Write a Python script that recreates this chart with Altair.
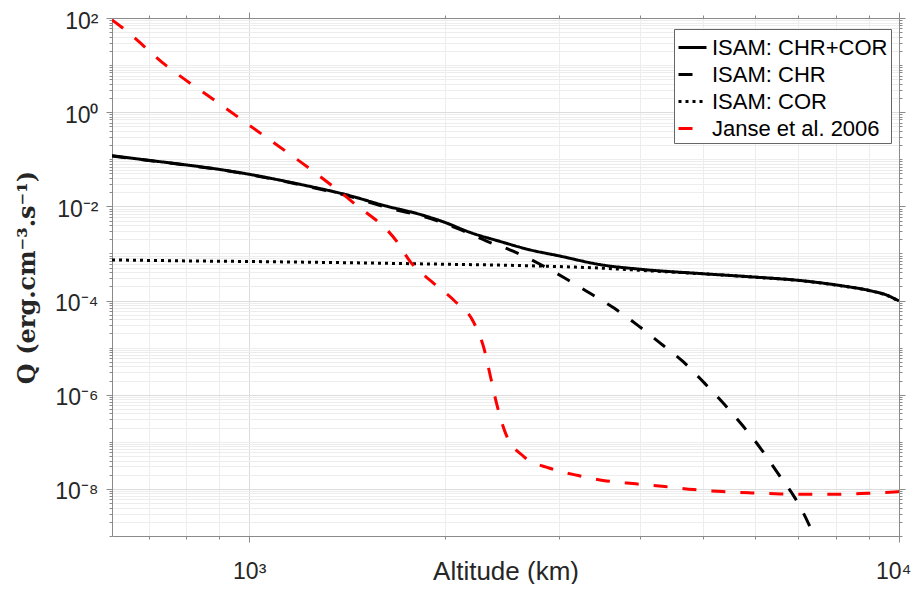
import math
import altair as alt
import pandas as pd

# ---------------- data ----------------
SERIES = ["ISAM: CHR+COR", "ISAM: CHR", "ISAM: COR", "Janse et al. 2006"]
COLORS = ["#000000", "#000000", "#000000", "#ff0000"]
DASHES = [[1, 0], [14, 15], [3, 4], [14, 15]]

ALT_TOTAL = [615, 701, 801, 898, 1000, 1197, 1403, 1628, 1831, 2000, 2187, 2432,
             2700, 3007, 3465, 4036, 4937, 6039, 7032, 8103, 9102, 9600, 9800, 10000]
Q_TOTAL = [0.119, 0.095, 0.0757, 0.0612, 0.048, 0.0294, 0.018, 0.0101, 0.00676,
           0.00457, 0.0028, 0.0018, 0.0012, 8.8e-4, 5.8e-4, 4.57e-4, 3.75e-4,
           3.13e-4, 2.67e-4, 2.09e-4, 1.58e-4, 1.29e-4, 1.13e-4, 9.8e-5]

ALT_CHR = [615, 701, 801, 898, 1000, 1197, 1403, 1628, 1917, 2109, 2319, 2548,
           2808, 3068, 3351, 3653, 3968, 4296, 4659, 5024, 5393, 5754, 6142,
           6508, 6912, 7254, 7330]
Q_CHR = [0.118, 0.094, 0.075, 0.0605, 0.0473, 0.0288, 0.0174, 0.0095, 5.29e-3,
         3.24e-3, 1.83e-3, 1.12e-3, 5.83e-4, 2.94e-4, 1.41e-4, 6.76e-5, 2.94e-5,
         1.23e-5, 4.97e-6, 1.74e-6, 6.12e-7, 2.16e-7, 6.86e-8, 2.16e-8, 6.53e-9,
         1.86e-9, 1.35e-9]

ALT_COR = [615, 800, 1000, 1200, 1600, 2000, 2432, 2800, 3465, 4036, 4937, 6039,
           7032, 8103, 9102, 9600, 9800, 10000]
Q_COR = [7.3e-4, 6.95e-4, 6.75e-4, 6.55e-4, 6.2e-4, 5.9e-4, 5.65e-4, 5.4e-4,
         4.9e-4, 4.35e-4, 3.73e-4, 3.12e-4, 2.66e-4, 2.08e-4, 1.57e-4, 1.28e-4,
         1.12e-4, 9.7e-5]

ALT_JANSE = [615, 636, 747, 880, 1046, 1231, 1444, 1687, 1772, 1919, 2073, 2211,
             2299, 2352, 2407, 2480, 2646, 2901, 3208, 3547, 3935, 4361, 4833,
             5350, 5928, 6577, 7296, 8087, 8972, 9824, 10000]
Q_JANSE = [91, 64.4, 9.5, 1.89, 0.34, 0.0676, 0.0122, 1.8e-3, 6.53e-4, 2.38e-4,
           9.66e-5, 3.63e-5, 9.38e-6, 2.38e-6, 5.92e-7, 1.53e-7, 4.86e-8, 2.75e-8,
           1.92e-8, 1.48e-8, 1.28e-8, 1.12e-8, 9.66e-9, 8.77e-9, 8.23e-9, 7.83e-9,
           7.71e-9, 7.71e-9, 8.1e-9, 8.6e-9, 8.8e-9]

X_DOMAIN = [615, 10000]
Y_DOMAIN = [1e-9, 1e2]

X_MAJOR = [1000, 10000]
X_MAJOR_LABELS = ["10³", "10⁴"]
Y_MAJOR = [1e2, 1e0, 1e-2, 1e-4, 1e-6, 1e-8]
Y_MAJOR_LABELS = ["10²", "10⁰", "10⁻²", "10⁻⁴", "10⁻⁶", "10⁻⁸"]

X_TITLE = "Altitude (km)"
Y_TITLE = "Q (erg.cm⁻³.s⁻¹)"

# ---------------- build table ----------------
rows = []
for name, xs, ys in [(SERIES[0], ALT_TOTAL, Q_TOTAL), (SERIES[1], ALT_CHR, Q_CHR),
                     (SERIES[2], ALT_COR, Q_COR), (SERIES[3], ALT_JANSE, Q_JANSE)]:
    for a, q in zip(xs, ys):
        rows.append({"series": name, "alt": a, "q": q})
df = pd.DataFrame(rows)


def minor_ticks(lo, hi, majors):
    out = []
    e0 = math.floor(math.log10(lo))
    e1 = math.ceil(math.log10(hi))
    for e in range(e0, e1 + 1):
        for m in range(1, 10):
            v = float(f"{m}e{e}")
            if lo <= v <= hi and all(abs(v - M) > 1e-12 * M for M in majors):
                out.append(v)
    return out


X_MINOR = minor_ticks(X_DOMAIN[0], X_DOMAIN[1], X_MAJOR)
Y_MINOR = minor_ticks(Y_DOMAIN[0], Y_DOMAIN[1], Y_MAJOR)


def label_expr(values, labels):
    parts = []
    for v, lab in zip(values, labels):
        parts.append(f"round(log(datum.value)/LN10) == {round(math.log10(v))} ? '{lab}'")
    return " : ".join(parts) + " : ''"


AX_COL = "#8a8a8a"
TXT_COL = "#262626"
SANS = "Liberation Sans"

xs = alt.Scale(type="log", domain=X_DOMAIN, nice=False)
ys = alt.Scale(type="log", domain=Y_DOMAIN, nice=False)

base = alt.Chart(df)


def legend():
    return alt.Legend(title=None, orient="none", legendX=562, legendY=11,
                      symbolType="stroke", symbolStrokeWidth=3, symbolSize=784,
                      labelFont=SANS, labelFontSize=22, labelColor="#000000",
                      labelOffset=4, labelLimit=400,
                      strokeColor="#666666", fillColor="#ffffff",
                      padding=3, rowPadding=0)


lines = base.mark_line(strokeWidth=3, clip=True, interpolate="monotone").encode(
    x=alt.X("alt:Q", scale=xs, axis=alt.Axis(
        orient="bottom", values=X_MAJOR, labelExpr=label_expr(X_MAJOR, X_MAJOR_LABELS),
        tickSize=6, tickColor=AX_COL, domainColor=AX_COL, grid=True, gridColor="#dcdcdc",
        labelFont=SANS, labelFontSize=23, labelColor=TXT_COL, labelPadding=18,
        labelOverlap=False, labelFlush=5, labelFlushOffset=12,
        title=X_TITLE, titleFont=SANS, titleFontSize=26, titleFontWeight="normal",
        titleColor=TXT_COL, titleBaseline="alphabetic", titleY=43)),
    y=alt.Y("q:Q", scale=ys, axis=alt.Axis(
        orient="left", values=Y_MAJOR, labelExpr=label_expr(Y_MAJOR, Y_MAJOR_LABELS),
        tickSize=6, tickColor=AX_COL, domainColor=AX_COL, grid=True, gridColor="#dcdcdc",
        labelFont=SANS, labelFontSize=23, labelColor=TXT_COL, labelPadding=8,
        labelBaseline="middle", labelOffset=3,
        labelOverlap=False, labelFlush=False,
        title=Y_TITLE, titleFont="DejaVu Serif", titleFontSize=24, titleFontWeight="bold",
        titleColor=TXT_COL, titleAngle=270, titleBaseline="alphabetic", titleX=-78,
        titleY=259)),
    color=alt.Color("series:N", scale=alt.Scale(domain=SERIES, range=COLORS),
                    legend=legend()),
    strokeDash=alt.StrokeDash("series:N", scale=alt.Scale(domain=SERIES, range=DASHES),
                              legend=legend()),
    detail="series:N",
)

minor_bl = base.mark_point(opacity=0).encode(
    x=alt.X("alt:Q", scale=xs, axis=alt.Axis(
        orient="bottom", values=X_MINOR, labels=False, tickSize=3, tickColor=AX_COL,
        domain=False, grid=True, gridColor="#ededed", title=None)),
    y=alt.Y("q:Q", scale=ys, axis=alt.Axis(
        orient="left", values=Y_MINOR, labels=False, tickSize=3, tickColor=AX_COL,
        domain=False, grid=True, gridColor="#ededed", title=None)),
)

major_tr = base.mark_point(opacity=0).encode(
    x=alt.X("alt:Q", scale=xs, axis=alt.Axis(
        orient="top", values=X_MAJOR, labels=False, tickSize=6, tickColor=AX_COL,
        domainColor=AX_COL, grid=False, title=None)),
    y=alt.Y("q:Q", scale=ys, axis=alt.Axis(
        orient="right", values=Y_MAJOR, labels=False, tickSize=6, tickColor=AX_COL,
        domainColor=AX_COL, grid=False, title=None)),
)

minor_tr = base.mark_point(opacity=0).encode(
    x=alt.X("alt:Q", scale=xs, axis=alt.Axis(
        orient="top", values=X_MINOR, labels=False, tickSize=3, tickColor=AX_COL,
        domain=False, grid=False, title=None)),
    y=alt.Y("q:Q", scale=ys, axis=alt.Axis(
        orient="right", values=Y_MINOR, labels=False, tickSize=3, tickColor=AX_COL,
        domain=False, grid=False, title=None)),
)

chart = alt.layer(minor_bl, minor_tr, major_tr, lines).resolve_axis(
    x="independent", y="independent"
).properties(
    width=787, height=518,
    autosize=alt.AutoSizeParams(type="none"),
    padding={"left": 104, "top": 10, "right": 13, "bottom": 48},
).configure_view(stroke="transparent").configure(background="#ffffff")

chart.save("out.html", embed_options={"renderer": "svg", "actions": False})
